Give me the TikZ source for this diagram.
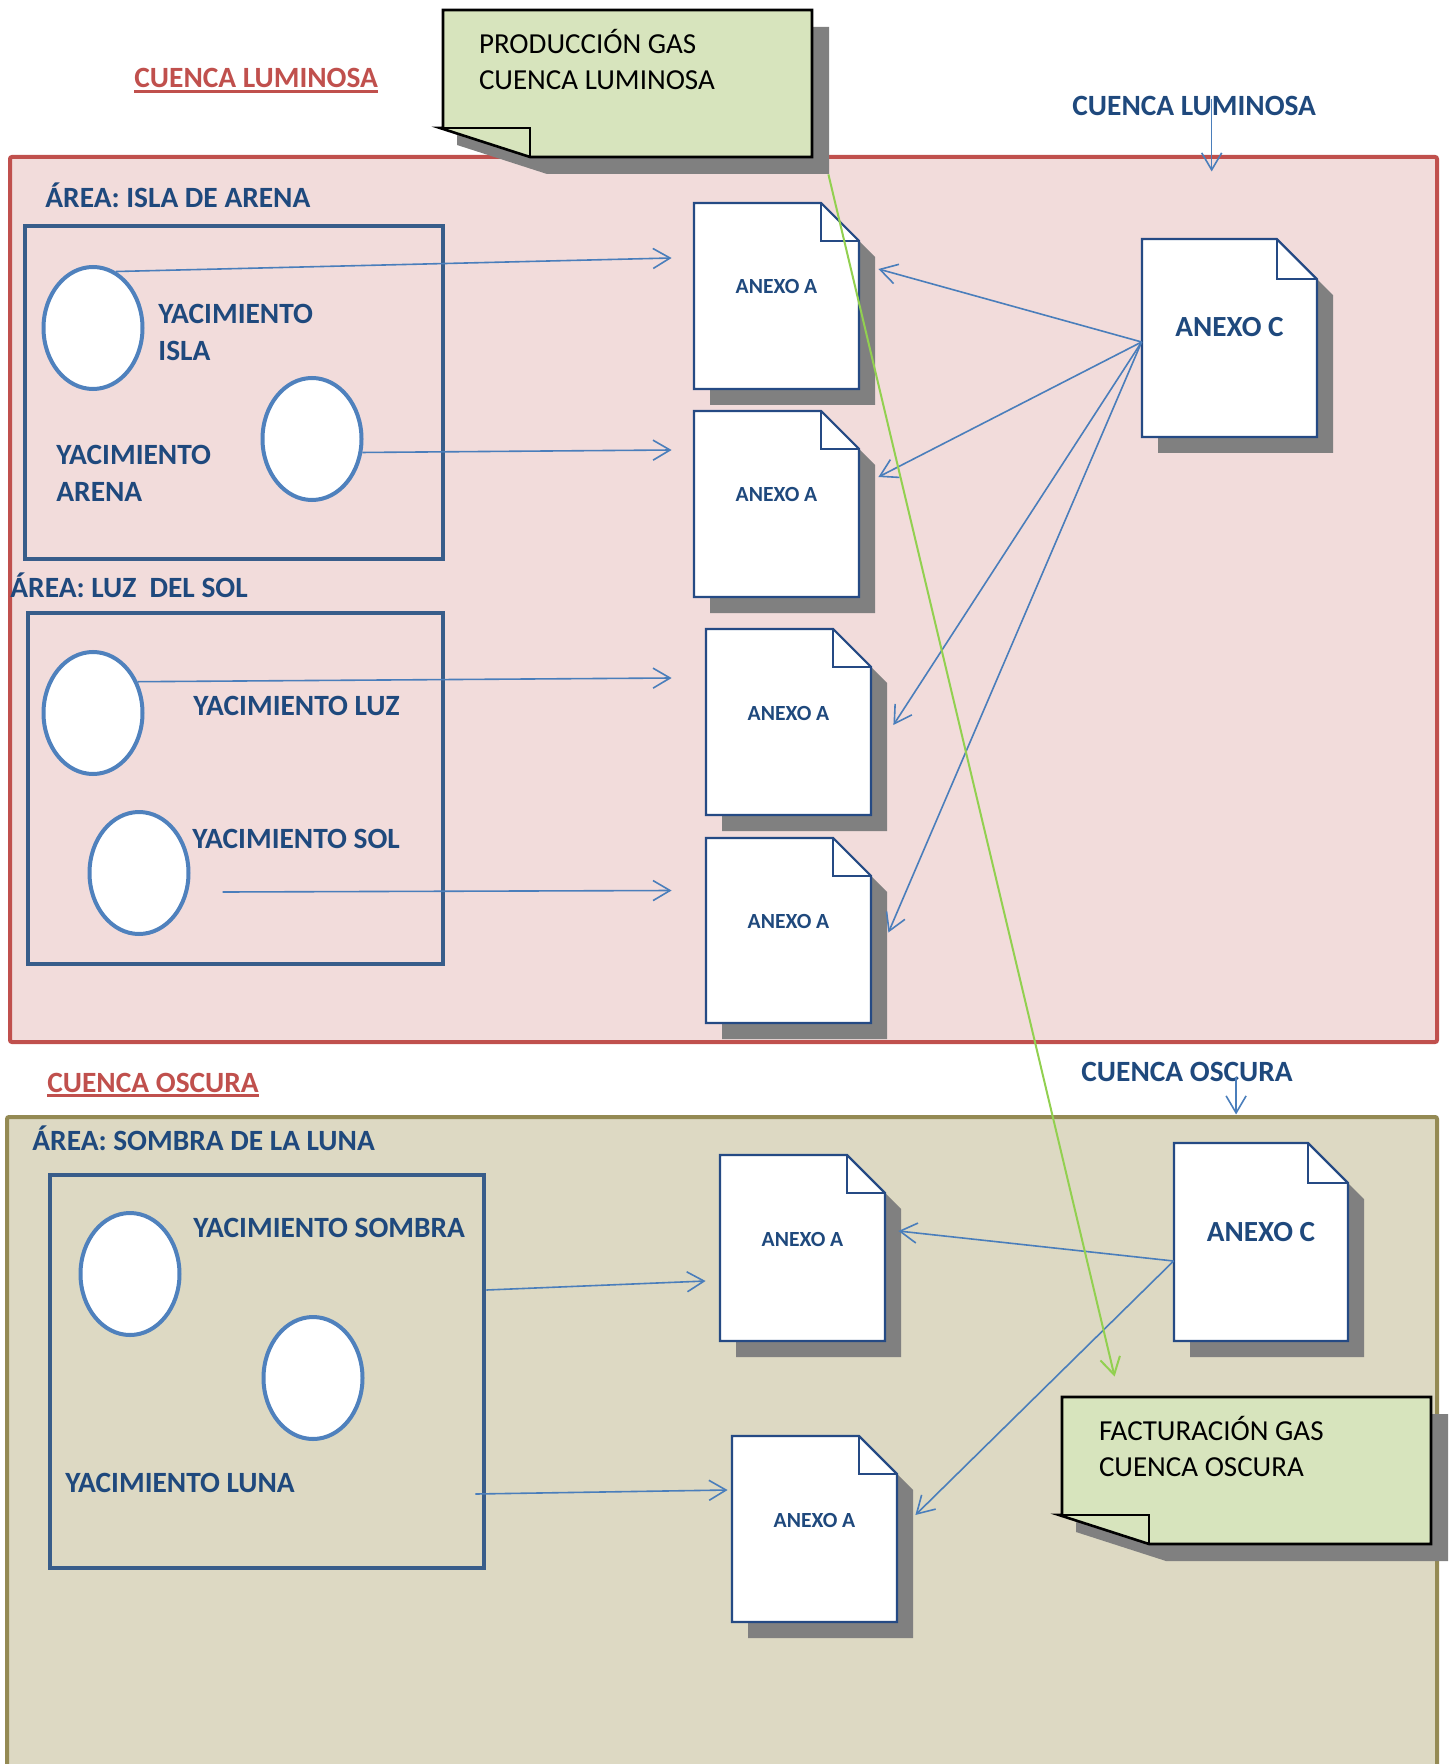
\documentclass[tikz,border=0pt]{standalone}
\usepackage{fontspec}
\setmainfont{Carlito}
\usepackage{tikz}
\usetikzlibrary{shapes.geometric, arrows.meta, positioning}

\definecolor{rojocuenca}{HTML}{C0504D}
\definecolor{rosacuenca}{HTML}{F2DCDB}
\definecolor{ocrecuenca}{HTML}{948A54}
\definecolor{beigecuenca}{HTML}{DDD9C3}
\definecolor{azularea}{HTML}{385D8A}
\definecolor{azulyac}{HTML}{4F81BD}
\definecolor{azultexto}{HTML}{1F497D}
\definecolor{azulhoja}{HTML}{254A84}
\definecolor{azulflecha}{HTML}{4A7EBB}
\definecolor{verdenota}{HTML}{D7E4BD}
\definecolor{verdeflecha}{HTML}{92D050}
\definecolor{gris}{HTML}{808080}

\tikzstyle{cuenca} = [rectangle, line width=2pt, rounded corners=1pt]
\tikzstyle{area} = [rectangle, draw=azularea, line width=2.4pt]
\tikzstyle{yacimiento} = [ellipse, draw=azulyac, fill=white, line width=2pt, minimum width=49.5pt, minimum height=61pt]
\tikzstyle{etiqueta} = [font=\bfseries\fontsize{14.7}{18.5}\selectfont, text=azultexto, inner sep=0pt]
\tikzstyle{titulo} = [font=\bfseries\fontsize{14.7}{18.5}\selectfont, text=rojocuenca, inner sep=0pt,
  append after command={([yshift=-1.6pt]\tikzlastnode.base west) edge[draw=rojocuenca, line width=1.5pt] ([yshift=-1.6pt]\tikzlastnode.base east)}]
\tikzstyle{anexoa} = [rectangle, inner sep=0pt, font=\bfseries\fontsize{10.8}{13}\selectfont, text=azultexto, text height=7pt, text depth=9pt]
\tikzstyle{anexoc} = [rectangle, inner sep=0pt, font=\bfseries\fontsize{14.6}{17}\selectfont, text=azultexto, text height=9.5pt, text depth=10.5pt]
\tikzstyle{hoja} = [draw=azulhoja, fill=white, line width=1.1pt]
\tikzstyle{sombra} = [fill=gris]
\tikzstyle{notaborde} = [draw=black, fill=verdenota, line width=1.3pt]
\tikzstyle{notatxt} = [font=\fontsize{14.5}{18}\selectfont, inner sep=0pt, align=left]
\tikzstyle{flecha} = [->, >={Straight Barb[length=8.5pt,width=10pt]}, draw=azulflecha, line width=0.8pt]
\tikzstyle{flechaverde} = [flecha, draw=verdeflecha, line width=1pt]

% hoja con esquina doblada: nombre, estilo, izq, arriba, ancho, alto, texto
\newcommand{\anexo}[7]{%
  \pgfmathsetmacro{\dxa}{#3}\pgfmathsetmacro{\dya}{#4}%
  \pgfmathsetmacro{\dxb}{#3+#5}\pgfmathsetmacro{\dyb}{#4+#6}%
  \pgfmathsetmacro{\dpl}{0.23*#5}%
  \fill[sombra] (\dxa+16,\dya+16) -- (\dxb-\dpl+16,\dya+16) -- (\dxb+16,\dya+\dpl+16) -- (\dxb+16,\dyb+16) -- (\dxa+16,\dyb+16) -- cycle;
  \draw[hoja] (\dxa,\dya) -- (\dxb-\dpl,\dya) -- (\dxb,\dya+\dpl) -- (\dxb,\dyb) -- (\dxa,\dyb) -- cycle;
  \draw[hoja, fill=none] (\dxb-\dpl,\dya) -- (\dxb-\dpl,\dya+\dpl) -- (\dxb,\dya+\dpl);
  \node[#2, minimum width={#5*0.5pt}, minimum height={#6*0.5pt}] (#1) at ({(\dxa+\dxb)/2},{(\dya+\dyb)/2}) {#7};
}

% nota con esquina doblada abajo: nombre, izq, arriba, der, abajo
\newcommand{\nota}[5]{%
  \fill[sombra] (#2+17,#3+17) -- (#4+17,#3+17) -- (#4+17,#5+17) -- (#2+104,#5+17) -- (#2+14,#5-12) -- cycle;
  \draw[notaborde] (#2,#3) -- (#4,#3) -- (#4,#5) -- (#2+87,#5) -- (#2-3,#5-29) -- (#2,#5-29) -- cycle;
  \draw[notaborde, fill=none] (#2-3,#5-29) -- (#2+87,#5-29) -- (#2+87,#5);
  \node[rectangle, inner sep=0pt, minimum width={(#4-#2)*0.5pt}, minimum height={(#5-#3)*0.5pt}] (#1) at ({(#2+#4)/2},{(#3+#5)/2}) {};
}

\begin{document}
\begin{tikzpicture}[x=0.5pt, y=-0.5pt]
\useasboundingbox (0,0) rectangle (1448,1764);

% cuencas
\node[cuenca, draw=rojocuenca, fill=rosacuenca, minimum width=713.5pt, minimum height=442.5pt] (roja) at (723.5,599.5) {};
\node[cuenca, draw=ocrecuenca, fill=beigecuenca, minimum width=715pt, minimum height=341.5pt] (ocre) at (722,1458.5) {};

% areas
\node[area, minimum width=209pt, minimum height=166.5pt] (isla) at (234,392.5) {};
\node[area, minimum width=207.5pt, minimum height=175.5pt] (luz) at (235.5,788.5) {};
\node[area, minimum width=217pt, minimum height=196.5pt] (sombra) at (267,1371.5) {};

% yacimientos
\node[yacimiento] (yisla) at (93,328) {};
\node[yacimiento] (yarena) at (312,439) {};
\node[yacimiento] (yluz) at (93,713) {};
\node[yacimiento] (ysol) at (139,873) {};
\node[yacimiento] (ysombra) at (130,1274) {};
\node[yacimiento] (yluna) at (313,1378) {};

% textos
\node[titulo, anchor=base west] (tlum) at (134,88) {CUENCA LUMINOSA};
\node[etiqueta, anchor=base west] (clum) at (1072,116) {CUENCA LUMINOSA};
\node[etiqueta, anchor=base west] (aisla) at (45,208) {ÁREA: ISLA DE ARENA};
\node[etiqueta, anchor=west, align=left] (tisla) at (158,332.5) {YACIMIENTO\\ISLA};
\node[etiqueta, anchor=west, align=left] (tarena) at (56,473.5) {YACIMIENTO\\ARENA};
\node[etiqueta, anchor=base west] (aluz) at (10,597) {ÁREA: LUZ\ \ DEL SOL};
\node[etiqueta, anchor=base west] (tluz) at (193,715) {YACIMIENTO LUZ};
\node[etiqueta, anchor=base west] (tsol) at (192,848) {YACIMIENTO SOL};
\node[titulo, anchor=base west] (tosc) at (47,1092) {CUENCA OSCURA};
\node[etiqueta, anchor=base west] (cosc) at (1081,1081) {CUENCA OSCURA};
\node[etiqueta, anchor=base west] (asombra) at (32,1150) {ÁREA: SOMBRA DE LA LUNA};
\node[etiqueta, anchor=base west] (tsombra) at (193,1237) {YACIMIENTO SOMBRA};
\node[etiqueta, anchor=base west] (tluna) at (65,1492) {YACIMIENTO LUNA};

% anexos
\anexo{a1}{anexoa}{694}{203}{165}{186}{ANEXO A}
\anexo{a2}{anexoa}{694}{411}{165}{186}{ANEXO A}
\anexo{a3}{anexoa}{706}{629}{165}{186}{ANEXO A}
\anexo{a4}{anexoa}{706}{838}{165}{185}{ANEXO A}
\anexo{c1}{anexoc}{1142}{239}{175}{198}{ANEXO C}
\anexo{a5}{anexoa}{720}{1155}{165}{186}{ANEXO A}
\anexo{a6}{anexoa}{732}{1436}{165}{186}{ANEXO A}
\anexo{c2}{anexoc}{1174}{1143}{174}{198}{ANEXO C}

% notas
\nota{prod}{443}{10}{812}{157}
\node[notatxt, below right=9.7pt and 18pt of prod.north west] (prodtxt) {PRODUCCIÓN GAS\\CUENCA LUMINOSA};
\nota{fact}{1062}{1397}{1431}{1544}
\node[notatxt, below right=9.7pt and 18.5pt of fact.north west] (facttxt) {FACTURACIÓN GAS\\CUENCA OSCURA};

% flechas cuenca luminosa
\draw[flecha] ([xshift=8.75pt,yshift=3.5pt]clum.center) -- ++(0,72);
\draw[flecha] (yisla.68) -- ([xshift=-11pt,yshift=19pt]a1.west);
\draw[flecha] (yarena.-15) -- ([xshift=-11pt,yshift=27pt]a2.west);
\draw[flecha] (yluz.35) -- ([xshift=-17pt,yshift=22pt]a3.west);
\draw[flecha] ([xshift=16pt,yshift=-9.5pt]ysol.east) -- ([xshift=-17pt,yshift=20pt]a4.west);
\draw[flecha] ([yshift=-2pt]c1.west) -- ([xshift=9.5pt,yshift=13.5pt]a1.east);
\draw[flecha] ([yshift=-2pt]c1.west) -- ([xshift=9.5pt,yshift=13.5pt]a2.east);
\draw[flecha] ([yshift=-2pt]c1.west) -- ([xshift=11pt,yshift=-1.5pt]a3.east);
\draw[flecha] ([yshift=-2pt]c1.west) -- ([xshift=8.5pt,yshift=-1pt]a4.east);

% flechas cuenca oscura
\draw[flecha] ([xshift=24.5pt,yshift=-3pt]cosc.center) -- ++(0,37);
\draw[flecha] ([yshift=40.75pt]sombra.east) -- ([xshift=-7pt,yshift=-16.5pt]a5.west);
\draw[flecha] ([xshift=-5.5pt,yshift=-61.25pt]sombra.east) -- ([xshift=-2pt,yshift=19.5pt]a6.west);
\draw[flecha] ([yshift=-9.5pt]c2.west) -- ([xshift=6.5pt,yshift=8.5pt]a5.east);
\draw[flecha] ([yshift=-9.5pt]c2.west) -- ([xshift=9pt,yshift=7pt]a6.east);

% produccion -> facturacion
\draw[flechaverde] ([xshift=8pt,yshift=-8.5pt]prod.south east) -- ([xshift=26.5pt,yshift=10pt]fact.north west);

\end{tikzpicture}
\end{document}
